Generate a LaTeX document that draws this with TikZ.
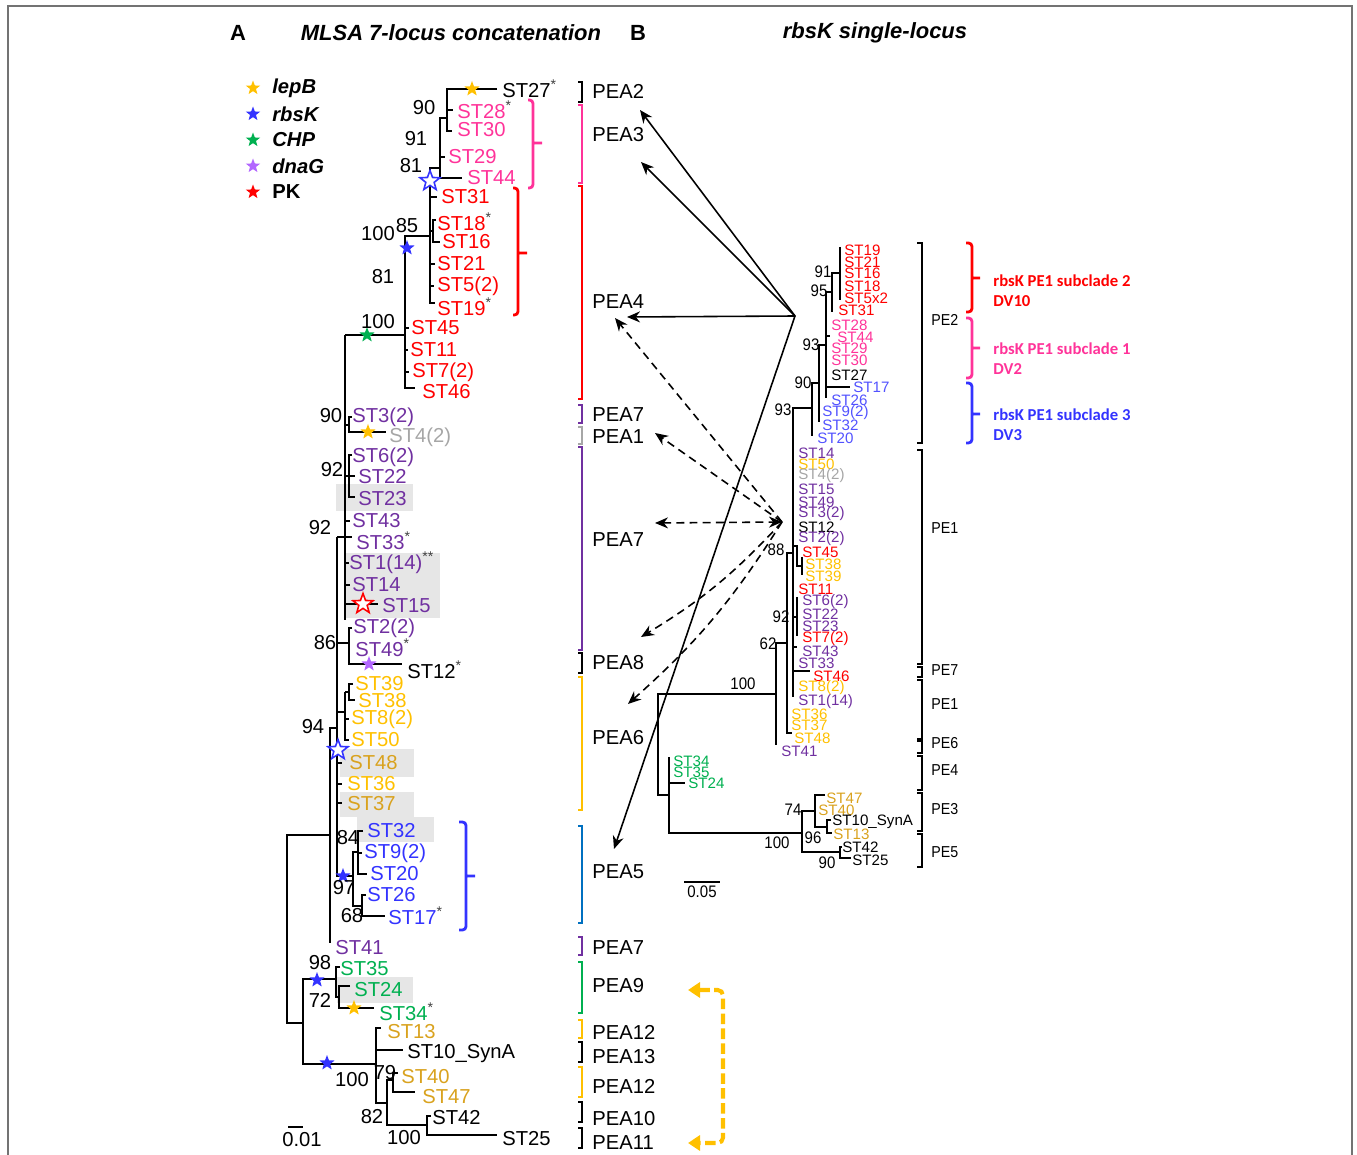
\documentclass[tikz,border=0pt]{standalone}
\usepackage{fontspec}
\setmainfont{Liberation Sans}
\newfontfamily\narrowsf[FakeStretch=0.9]{Liberation Sans}
\newfontfamily\calib{Carlito}
\usepackage{xcolor}
\usepackage{tikz}
\usetikzlibrary{arrows.meta,shapes.geometric}
\definecolor{cGold}{HTML}{FFC000}
\definecolor{cOchre}{HTML}{D9A21E}
\definecolor{cPink}{HTML}{FF3399}
\definecolor{cRed}{HTML}{FF0000}
\definecolor{cPurple}{HTML}{7030A0}
\definecolor{cViolet}{HTML}{B266FF}
\definecolor{cGrey}{HTML}{A6A6A6}
\definecolor{cBlue}{HTML}{3333FF}
\definecolor{cLtBlue}{HTML}{5252FF}
\definecolor{cGreen}{HTML}{00B050}
\definecolor{cSky}{HTML}{0070C0}
\definecolor{cShade}{HTML}{E6E6E6}
\newcommand{\mk}{\textcolor{black!75}{\textsuperscript{*}}}
\newcommand{\mkk}{\textcolor{black!75}{\textsuperscript{**}}}

\begin{document}
\begin{tikzpicture}[
  x=0.02cm, y=-0.02cm,
  br/.style={line width=1pt, line join=miter},
  leaf/.style={anchor=west, inner sep=0pt, font=\fontsize{11.5}{12}\selectfont},
  rleaf/.style={anchor=west, inner sep=0pt, font=\fontsize{8.6}{9}\selectfont},
  boot/.style={inner sep=0pt, font=\fontsize{11.5}{12}\selectfont},
  rboot/.style={inner sep=0pt, font=\narrowsf\fontsize{9.5}{10}\selectfont},
  pea/.style={anchor=west, inner sep=0pt, font=\fontsize{11.5}{12}\selectfont},
  pe/.style={anchor=west, inner sep=0pt, font=\narrowsf\fontsize{9}{10}\selectfont},
  peabrk/.style={line width=1pt},
  cbrace/.style={line width=1.6pt, rounded corners=2pt},
  hibox/.style={fill=cShade, draw=none},
  fstar/.style={star, star points=5, star point ratio=2.4, inner sep=0pt, minimum size=0.32cm, draw=none},
  ostar/.style={star, star points=5, star point ratio=2.4, inner sep=0pt, minimum size=0.42cm, fill=white, line width=0.9pt},
  ttl/.style={inner sep=0pt, font=\fontsize{12.5}{13}\selectfont\bfseries},
  legtxt/.style={anchor=west, inner sep=0pt, font=\fontsize{11.5}{12}\selectfont\bfseries},
  sub/.style={anchor=west, align=left, inner sep=0pt, font=\calib\fontsize{9.5}{11.4}\selectfont\bfseries},
  solidarr/.style={-{Stealth[length=2.6mm,width=2.2mm]}, line width=0.9pt},
  dasharr/.style={-{Stealth[length=2.6mm,width=2.2mm]}, line width=0.9pt, dash pattern=on 4.5pt off 3pt},
  goldarr/.style={{Triangle[length=2.4mm,width=3mm]}-{Triangle[length=2.4mm,width=3mm]}, line width=2.3pt,
                  draw=cGold, dash pattern=on 6pt off 2.5pt, rounded corners=3pt},
]
\useasboundingbox (0,0) rectangle (1357,1155);

% ── Frame and titles ──────────────────────────────────────────────────────────
\draw[black!55, line width=0.8pt] (8,1155) -- (8,6) -- (1352,6) -- (1352,1155);
\node[ttl] (tA) at (238,33) {A};
\node[ttl] (tAname) at (451,33) {\itshape MLSA 7-locus concatenation};
\node[ttl] (tB) at (638,33) {B};
\node[ttl] (tBname) at (875,33) {\itshape rbsK single-locus};

% ── Legend ────────────────────────────────────────────────────────────────────
\foreach \n/\y/\c/\t in {lg1/88/cGold/\itshape lepB, lg2/114/cBlue/\itshape rbsK, lg3/140/cGreen/\itshape CHP,
                         lg4/166/cViolet/\itshape dnaG, lg5/192/cRed/PK}{
  \node[fstar, fill=\c, minimum size=0.3cm] (\n s) at (253,\y) {};
  \node[legtxt] (\n) at (272,\y) {\t};
}

% ── A: shaded leaves ──────────────────────────────────────────────────────────
\fill[hibox] (336,484) rectangle (413,511);
\fill[hibox] (346,553) rectangle (440,618);
\fill[hibox] (340,749) rectangle (414,777);
\fill[hibox] (340,792) rectangle (414,817);
\fill[hibox] (357,817) rectangle (434,842);
\fill[hibox] (337,977) rectangle (413,1003);

% ── A: branches ───────────────────────────────────────────────────────────────
\draw[br] (330,835) -- (287,835) -- (287,1023) -- (303,1023);
\draw[br] (337,728) -- (330,728) -- (330,943);
\draw[br] (337,537) -- (337,876) -- (353,876);
\draw[br] (337,537) -- (352,537);
\draw[br] (345,335) -- (345,620);
% red and pink
\draw[br] (345,335) -- (405,335);
\draw[br] (430,236) -- (405,236) -- (405,388) -- (415,388);
\foreach \y/\e in {328/409,350/408,372/409} \draw[br] (405,\y) -- (\e,\y);
\draw[br] (440,168) -- (430,168) -- (430,303) -- (435,303);
\foreach \y/\e in {197/437,264/435,286/434} \draw[br] (430,\y) -- (\e,\y);
\draw[br] (430,231) -- (433,231) (436,220) -- (433,220) -- (433,242) -- (440,242);
\draw[br] (447,118) -- (440,118) -- (440,178) -- (462,178) (440,157) -- (445,157);
\draw[br] (497,89) -- (447,89) -- (447,131) -- (452,131) (447,110) -- (453,110);
% purple
\draw[br] (345,425) -- (349,425) (352,417) -- (349,417) -- (349,432) -- (386,432);
\draw[br] (345,476) -- (355,476) (352,455) -- (349,455) -- (349,497) -- (355,497);
\foreach \y/\e in {521/350,563/349,585/350} \draw[br] (345,\y) -- (\e,\y);
\draw[br] (345,604) -- (378,604);
\draw[br] (337,643) -- (349,643) (352,628) -- (349,628) -- (349,664) -- (402,664);
% orange
\draw[br] (337,712) -- (345,712) (345,692) -- (345,740) -- (349,740) (345,719) -- (349,719) (345,692) -- (349,692);
\draw[br] (353,684) -- (349,684) -- (349,700) -- (355,700);
\foreach \y in {763,784,803} \draw[br] (337,\y) -- (342,\y);
% blue
\draw[br] (358,852) -- (353,852) -- (353,906) -- (362,906);
\draw[br] (363,831) -- (358,831) -- (358,874) -- (367,874) (358,853) -- (362,853);
\draw[br] (366,895) -- (362,895) -- (362,916) -- (385,916);
% green and basal
\draw[br] (336,979) -- (303,979) -- (303,1064) -- (376,1064);
\draw[br] (340,967) -- (336,967) -- (336,997) -- (339,997);
\draw[br] (350,986) -- (339,986) -- (339,1008) -- (374,1008);
\draw[br] (381,1028) -- (376,1028) -- (376,1103) -- (387,1103) (376,1050) -- (403,1050);
\draw[br] (393,1080) -- (387,1080) -- (387,1125) -- (427,1125);
\draw[br] (398,1073) -- (393,1073) -- (393,1092) -- (415,1092);
\draw[br] (431,1116) -- (427,1116) -- (427,1135) -- (497,1135);

% ── A: character changes ──────────────────────────────────────────────────────
\foreach \x/\y/\c [count=\i] in {472/89/cGold, 368/432/cGold, 354/1008/cGold, 407/248/cBlue, 343/876/cBlue,
                                 317/980/cBlue, 327/1063/cBlue, 367/335/cGreen, 369/664/cViolet}
  \node[fstar, fill=\c] (fs\i) at (\x,\y) {};
\node[ostar, draw=cBlue] (os1) at (430,181) {};
\node[ostar, draw=cBlue] (os2) at (338,750) {};
\node[ostar, draw=cRed]  (os3) at (363,604) {};

% ── A: leaves ─────────────────────────────────────────────────────────────────
\foreach \n/\x/\y/\c/\t in {
  l27/502/89/black/{ST27\mk}, l28/457/110/cPink/{ST28\mk}, l30/457/130/cPink/ST30, l29/448/157/cPink/ST29,
  l44/467/178/cPink/ST44, l31/441/197/cRed/ST31, l18/437/222/cRed/{ST18\mk}, l16/442/242/cRed/ST16,
  l21/437/264/cRed/ST21, l5/437/286/cRed/ST5(2), l19/437/307/cRed/{ST19\mk}, l45/411/328/cRed/ST45,
  l11/410/350/cRed/ST11, l7/412/372/cRed/ST7(2), l46/422/392/cRed/ST46, l3/352/417/cPurple/ST3(2),
  l4/389/437/cGrey/ST4(2), l6/352/457/cPurple/ST6(2), l22/358/477/cPurple/ST22, l23/358/499/cPurple/ST23,
  l43/352/521/cPurple/ST43, l33/356/541/cPurple/{ST33\mk}, l1/349/563/cPurple/{ST1(14)\mkk},
  l14/352/585/cPurple/ST14, l15/382/606/cPurple/ST15, l2/353/628/cPurple/ST2(2), l49/355/648/cPurple/{ST49\mk},
  l12/407/670/black/{ST12\mk}, l39/355/684/cGold/ST39, l38/358/701/cGold/ST38, l8/351/719/cGold/ST8(2),
  l50/351/740/cGold/ST50, l48/349/763/cOchre/ST48, l36/347/784/cGold/ST36, l37/347/804/cOchre/ST37,
  l32/367/831/cBlue/ST32, l9/364/853/cBlue/ST9(2), l20/370/874/cBlue/ST20, l26/367/895/cBlue/ST26,
  l17/388/916/cBlue/{ST17\mk}, l41/335/948/cPurple/ST41, l35/340/969/cGreen/ST35, l24/354/990/cGreen/ST24,
  l34/379/1012/cGreen/{ST34\mk}, l13/387/1032/cOchre/ST13, l10/407/1054/black/ST10\_SynA,
  l40/401/1077/cOchre/ST40, l47/422/1097/cOchre/ST47, l42/432/1118/black/ST42, l25/502/1139/black/ST25}
  \node[leaf, text=\c] (\n) at (\x,\y) {\t};

% bootstrap values
\foreach \t/\x/\y [count=\i] in {90/424/108, 91/416/139, 81/411/166, 100/378/234, 85/407/226, 81/383/277,
    100/378/322, 90/331/416, 92/332/470, 92/320/528, 86/325/643, 94/313/727, 84/348/838, 97/344/888,
    68/352/916, 98/320/963, 72/320/1000, 100/352/1080, 79/385/1073, 82/372/1117, 100/404/1138}
  \node[boot] (bl\i) at (\x,\y) {\t};

% scale bar
\draw[br] (288,1127) -- (303,1127);
\node[boot] (sclA) at (302,1140) {0.01};

% clade braces
\draw[cbrace, cPink] (528,100) -- (533,100) -- (533,188) -- (528,188) (533,143) -- (542,143);
\draw[cbrace, cRed] (513,188) -- (518,188) -- (518,315) -- (513,315) (518,253) -- (527,253);
\draw[cbrace, cBlue] (459,822) -- (466,822) -- (466,930) -- (459,930) (466,876) -- (475,876);

% ── PEA groups ────────────────────────────────────────────────────────────────
\foreach \n/\y/\t in {pea2/91/PEA2, pea3/135/PEA3, pea4/302/PEA4, pea7a/415/PEA7, pea1/437/PEA1,
    pea7b/540/PEA7, pea8/663/PEA8, pea6/738/PEA6, pea5/872/PEA5, pea7c/948/PEA7, pea9/986/PEA9,
    pea12a/1032/PEA12, pea13/1057/PEA13, pea12b/1086/PEA12, pea10/1119/PEA10, pea11/1143/PEA11}
  \node[pea] (\n) at (592,\y) {\t};
\foreach \c/\ya/\yb in {black/82/102, cPink/105/183, cRed/186/399, cPurple/405/423, cGrey/427/444,
    cPurple/447/650, black/653/673, cGold/677/810, cSky/826/923, cPurple/937/955, cGreen/962/1013,
    cGold/1020/1038, black/1042/1062, cGold/1067/1097, black/1102/1122, black/1128/1148}
  \draw[peabrk, draw=\c] (578,\ya) -- (582,\ya) -- (582,\yb) -- (578,\yb);

% ── B: branches ───────────────────────────────────────────────────────────────
\draw[br] (776,694) -- (658,694) -- (658,795) -- (669,795);
\draw[br] (669,757) -- (669,833) -- (802,833) (669,783) -- (685,783);
\draw[br] (815,811) -- (802,811) -- (802,852) -- (840,852);
\draw[br] (825,795) -- (815,795) -- (815,827) -- (827,827);
\draw[br] (831,820) -- (827,820) -- (827,833) -- (832,833);
\draw[br] (842,847) -- (840,847) -- (840,858) -- (851,858);
\draw[br] (787,643) -- (776,643) -- (776,745);
\draw[br] (793,553) -- (787,553) -- (787,733) -- (792,733);
\draw[br] (812,408) -- (793,408) -- (793,697);
\draw[br] (793,546) -- (797,546) -- (797,566) -- (802,566) (802,557) -- (802,575);
\draw[br] (793,617) -- (797,617) (797,597) -- (797,636);
\draw[br] (793,647) -- (797,647) (793,671) -- (810,671);
\draw[br] (819,383) -- (812,383) -- (812,436);
\draw[br] (826,345) -- (819,345) -- (819,422);
\draw[br] (832,292) -- (826,292) -- (826,398) (826,336) -- (830,336) (826,387) -- (850,387);
\draw[br] (840,273) -- (832,273) -- (832,312);
\draw[br] (840,247) -- (840,300);

% ── B: leaves ─────────────────────────────────────────────────────────────────
\foreach \n/\x/\y/\c/\t in {
  r19/844/250/cRed/ST19, r21/844/262/cRed/ST21, r16/844/273/cRed/ST16, r18/844/286/cRed/ST18,
  r5/844/298/cRed/ST5x2, r31/838/310/cRed/ST31, r28/831/325/cPink/ST28, r44/837/337/cPink/ST44,
  r29/831/348/cPink/ST29, r30/831/360/cPink/ST30, r27/831/375/black/ST27, r17/853/387/cLtBlue/ST17,
  r26/831/400/cLtBlue/ST26, r9/822/413/cLtBlue/ST9(2), r32/822/425/cLtBlue/ST32, r20/817/438/cLtBlue/ST20,
  r14/798/453/cPurple/ST14, r50/798/464/cGold/ST50, r4/798/476/cGrey/ST4(2), r15/798/489/cPurple/ST15,
  r49/798/502/cPurple/ST49, r3/798/514/cPurple/ST3(2), r12/798/527/black/ST12, r2/798/539/cPurple/ST2(2),
  r45/802/552/cRed/ST45, r38/805/564/cGold/ST38, r39/805/576/cGold/ST39, r11/798/589/cRed/ST11,
  r6/802/602/cPurple/ST6(2), r22/802/614/cPurple/ST22, r23/802/626/cPurple/ST23, r7/802/639/cRed/ST7(2),
  r43/802/651/cPurple/ST43, r33/798/663/cPurple/ST33, r46/813/676/cRed/ST46, r8/798/688/cGold/ST8(2),
  r1/798/702/cPurple/ST1(14), r36/791/714/cGold/ST36, r37/791/725/cGold/ST37, r48/794/738/cGold/ST48,
  r41/781/751/cPurple/ST41, r34/673/761/cGreen/ST34, r35/673/772/cGreen/ST35, r24/688/783/cGreen/ST24,
  r47/826/798/cOchre/ST47, r40/818/810/cOchre/ST40, r10/832/822/black/ST10\_SynA, r13/833/834/cOchre/ST13,
  r42/842/847/black/ST42, r25/852/860/black/ST25}
  \node[rleaf, text=\c] (\n) at (\x,\y) {\t};

% bootstrap values
\foreach \t/\x/\y [count=\i] in {91/823/272, 95/819/291, 93/811/345, 90/803/383, 93/783/410, 88/776/550,
    92/781/617, 62/768/644, 100/743/684, 74/793/810, 100/777/843, 96/813/838, 90/827/863}
  \node[rboot] (br\i) at (\x,\y) {\t};

% scale bar
\draw[br] (684,882) -- (720,882);
\node[rboot] (sclB) at (702,892) {0.05};

% ── B: PE groups ──────────────────────────────────────────────────────────────
\foreach \n/\y/\t in {pe2/320/PE2, pe1a/528/PE1, pe7/670/PE7, pe1b/704/PE1, pe6/743/PE6,
    pe4/770/PE4, pe3/809/PE3, pe5/852/PE5}
  \node[pe] (\n) at (931,\y) {\t};
\foreach \ya/\yb in {243/443, 450/664, 667/677, 680/739, 741/753, 756/790, 793/831, 834/867}
  \draw[peabrk] (917,\ya) -- (922,\ya) -- (922,\yb) -- (917,\yb);

% rbsK subclades
\draw[cbrace, cRed] (966,243) -- (972,243) -- (972,312) -- (966,312) (972,278) -- (980,278);
\draw[cbrace, cPink] (966,318) -- (972,318) -- (972,378) -- (966,378) (972,348) -- (980,348);
\draw[cbrace, cBlue] (966,383) -- (972,383) -- (972,443) -- (966,443) (972,414) -- (980,414);
\node[sub, text=cRed] (sc2) at (993,291) {rbsK PE1 subclade 2\\DV10};
\node[sub, text=cPink] (sc1) at (993,359) {rbsK PE1 subclade 1\\DV2};
\node[sub, text=cBlue] (sc3) at (993,425) {rbsK PE1 subclade 3\\DV3};

% ── Correspondence arrows ─────────────────────────────────────────────────────
\coordinate (hubA) at (795,316);
\coordinate (hubB) at (782,522);
\coordinate (tPEA2) at (640,110);
\coordinate (tPEA3) at (641,162);
\coordinate (tPEA4) at (627,317);
\coordinate (tPEA5) at (614,849);
\coordinate (dPEA4) at (615,318);
\coordinate (dPEA1) at (655,433);
\coordinate (dPEA7) at (655,523);
\coordinate (dPEA8) at (641,637);
\coordinate (dPEA6) at (628,704);
\foreach \t in {tPEA2,tPEA3,tPEA4,tPEA5} \draw[solidarr] (hubA) -- (\t);
\draw[dasharr] (hubB) -- (dPEA4);
\draw[dasharr] (hubB) -- (dPEA1);
\draw[dasharr, {Stealth[length=2.6mm,width=2.2mm]}-{Stealth[length=2.6mm,width=2.2mm]}] (dPEA7) -- (hubB);
\draw[dasharr] (hubB) to[bend left=8] (dPEA8);
\draw[dasharr] (hubB) to[bend left=8] (dPEA6);

% PEA9 / PEA11 link
\coordinate (gTop) at (688,990);
\coordinate (gBot) at (688,1143);
\draw[goldarr] (gTop) -- (723,990) -- (723,1143) -- (gBot);

\end{tikzpicture}
\end{document}
